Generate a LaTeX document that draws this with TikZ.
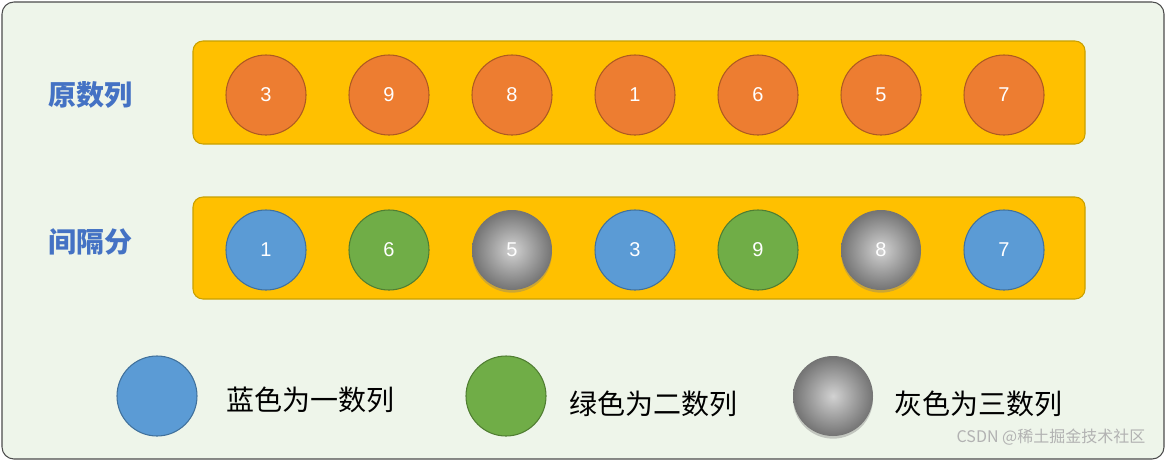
\documentclass[tikz,border=0pt]{standalone}
\usepackage{fontspec}
\setmainfont{Liberation Sans}
\newfontfamily\cjk{Noto Sans CJK SC}
\usetikzlibrary{shadows}
\definecolor{bg}{HTML}{EEF5EA}
\definecolor{bar}{HTML}{FFC000}
\definecolor{barb}{HTML}{C9A000}
\definecolor{org}{HTML}{ED7D31}
\definecolor{orgb}{HTML}{AE5A21}
\definecolor{blu}{HTML}{5B9BD5}
\definecolor{blub}{HTML}{41719C}
\definecolor{grn}{HTML}{70AD47}
\definecolor{grnb}{HTML}{507E32}
\definecolor{gry}{HTML}{A5A5A5}
\definecolor{lab}{HTML}{4472C4}
\tikzset{
 ball/.style={circle,minimum size=80\pxu,inner sep=0pt,text=white,font=\fontsize{15}{15}\selectfont,line width=0.8pt},
 oball/.style={ball,fill=org,draw=orgb},
 bball/.style={ball,fill=blu,draw=blub},
 gball/.style={ball,fill=grn,draw=grnb},
 yball/.style={ball,inner color=gry!50!white,outer color=gry!70!black,draw=none,drop shadow={shadow xshift=0pt,shadow yshift=-2pt,opacity=0.4}},
 barbox/.style={draw=barb,fill=bar,rounded corners=10\pxu,line width=0.8pt},
 rowlab/.style={font=\cjk\bfseries\fontsize{21}{21}\selectfont,text=lab},
 leglab/.style={font=\cjk\fontsize{21}{21}\selectfont,anchor=west}
}
\newlength\pxu \setlength\pxu{0.75pt}
\begin{document}
\begin{tikzpicture}[x=0.75pt,y=-0.75pt]
\useasboundingbox (0,0) rectangle (1166,461);
\draw[fill=bg,draw=black!70,line width=0.8pt,rounded corners=12\pxu] (2,2) rectangle (1164,459);
\node[barbox,minimum width=892\pxu,minimum height=103\pxu] (top) at (639,92.5) {};
\node[barbox,minimum width=892\pxu,minimum height=102\pxu] (bot) at (639,248) {};
\node[rowlab] (l1) at (90,95) {原数列};
\node[rowlab] (l2) at (90,242) {间隔分};
\foreach \v [count=\i] in {3,9,8,1,6,5,7}
  \node[oball] (t\i) at ({266+123*(\i-1)},95) {\v};
\node[bball] (b1) at (266,250) {1};
\node[gball] (b2) at (389,250) {6};
\node[yball] (b3) at (512,250) {5};
\node[bball] (b4) at (635,250) {3};
\node[gball] (b5) at (758,250) {9};
\node[yball,drop shadow={opacity=0}] (b6) at (881,250) {8};
\node[bball] (b7) at (1004,250) {7};
\node[bball] (k1) at (157,396) {};
\node[leglab] (k1t) at (222,400) {蓝色为一数列};
\node[gball] (k2) at (506,396) {};
\node[leglab] (k2t) at (565,404) {绿色为二数列};
\node[yball] (k3) at (833,396) {};
\node[leglab] (k3t) at (890,404) {灰色为三数列};
\node[font=\cjk\fontsize{12}{12}\selectfont,text=black!30,anchor=east] (wm) at (1150,437) {CSDN @稀土掘金技术社区};
\end{tikzpicture}
\end{document}
